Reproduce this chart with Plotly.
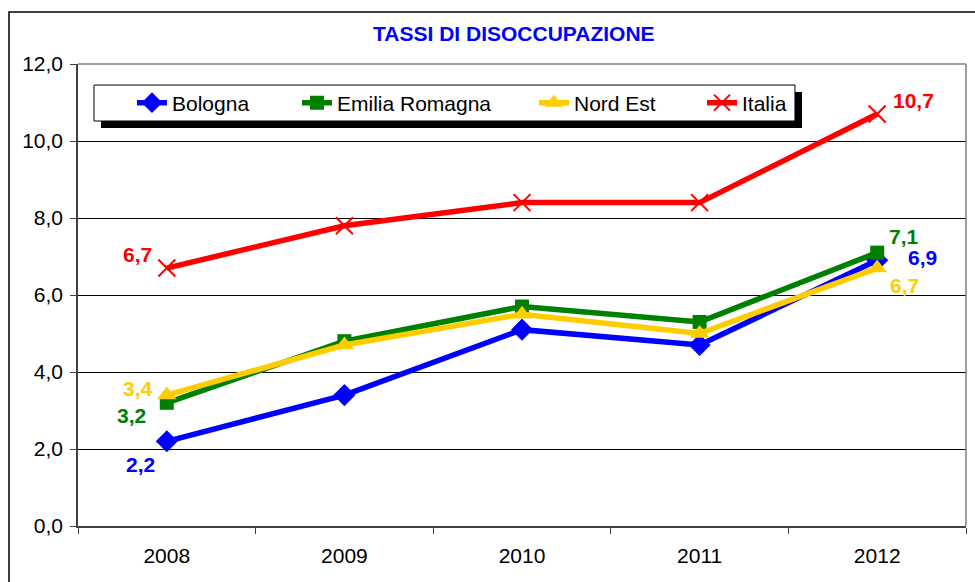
import plotly.graph_objects as go

years = ["2008", "2009", "2010", "2011", "2012"]
bologna = [2.2, 3.4, 5.1, 4.7, 6.9]
emilia = [3.2, 4.8, 5.7, 5.3, 7.1]
nord_est = [3.4, 4.7, 5.5, 5.0, 6.7]
italia = [6.7, 7.8, 8.4, 8.4, 10.7]
series_names = ["Bologna", "Emilia Romagna", "Nord Est", "Italia"]
y_ticks = [0, 2, 4, 6, 8, 10, 12]
title_text = "TASSI DI DISOCCUPAZIONE"

colors = ["#0000FF", "#008000", "#FFCC00", "#FF0000"]
symbols = ["diamond", "square", "triangle-up", "x-thin"]
msizes = [17, 14, 17, 17]
FONT = "Liberation Sans, Arial, sans-serif"

series = [bologna, emilia, nord_est, italia]
legend_ids = ["legend", "legend2", "legend3", "legend4"]
legend_x = [0.0608, 0.2466, 0.5135, 0.7027]

fig = go.Figure()
for i, (name, vals) in enumerate(zip(series_names, series)):
    marker = dict(symbol=symbols[i], size=msizes[i], color=colors[i])
    if symbols[i] == "x-thin":
        marker["line"] = dict(color=colors[i], width=2)
    fig.add_trace(go.Scatter(
        x=years, y=vals, name=name, mode="lines+markers",
        line=dict(color=colors[i], width=5.5),
        marker=marker, legend=legend_ids[i], showlegend=True,
    ))

# data labels for first and last year (offsets in px)
label_offsets = {
    0: [(-26, -23), (45, 3)],
    1: [(-35, -13), (27, 16)],
    2: [(-29, 7), (27, -17)],
    3: [(-29, 14), (36, 14)],
}
annotations = []
for i, vals in enumerate(series):
    for j, idx in enumerate([0, len(years) - 1]):
        dx, dy = label_offsets[i][j]
        annotations.append(dict(
            x=idx, y=vals[idx], xref="x", yref="y",
            text=f"{vals[idx]:.1f}".replace(".", ","),
            showarrow=False, xshift=dx, yshift=dy,
            font=dict(family=FONT, size=21, color=colors[i], weight="bold"),
        ))

shapes = [
    # outer chart border
    dict(type="rect", xref="paper", yref="paper", x0=-0.0777, x1=1.05, y0=-0.2, y1=1.1126,
         line=dict(color="black", width=1.5), fillcolor="rgba(0,0,0,0)", layer="above"),
    # plot area top/right border (gray)
    dict(type="line", xref="paper", yref="paper", x0=0, x1=1, y0=1, y1=1,
         line=dict(color="#808080", width=1.5), layer="above"),
    dict(type="line", xref="paper", yref="paper", x0=1, x1=1, y0=0, y1=1,
         line=dict(color="#808080", width=1.5), layer="above"),
    # legend shadow
    dict(type="rect", xref="paper", yref="paper", x0=0.0259, x1=0.8153, y0=0.8615, y1=0.9394,
         line=dict(width=0), fillcolor="black", layer="above"),
    # legend box
    dict(type="rect", xref="paper", yref="paper", x0=0.018, x1=0.8074, y0=0.8766, y1=0.9545,
         line=dict(color="black", width=1), fillcolor="white", layer="above"),
]

layout_legends = {}
for lid, lx in zip(legend_ids, legend_x):
    layout_legends[lid] = dict(
        x=lx, xanchor="left", y=0.9156, yanchor="middle",
        orientation="h", bgcolor="rgba(0,0,0,0)", borderwidth=0,
        font=dict(family=FONT, size=21, color="black"),
    )

fig.update_layout(
    width=975, height=582,
    margin=dict(l=78, r=9, t=64, b=56),
    paper_bgcolor="white", plot_bgcolor="white",
    separators=",.",
    title=dict(text=title_text, x=0.527, xref="container", xanchor="center",
               y=1 - 34 / 582, yref="container", yanchor="middle",
               font=dict(family=FONT, size=21, color="#0000FF", weight="bold")),
    font=dict(family=FONT, size=21, color="black"),
    showlegend=True,
    annotations=annotations,
    shapes=shapes,
    **layout_legends,
)
fig.update_xaxes(
    type="category", range=[-0.5, 4.5], tickson="boundaries",
    ticks="outside", ticklen=6, tickcolor="#404040",
    showline=True, linecolor="#404040", linewidth=1.5,
    showgrid=False, ticklabelstandoff=10,
    tickfont=dict(family=FONT, size=21, color="black"),
)
fig.update_yaxes(
    range=[0, 12], tickvals=y_ticks, tickformat=".1f",
    ticks="outside", ticklen=6, tickcolor="#404040",
    showline=True, linecolor="#404040", linewidth=1.5,
    showgrid=True, gridcolor="black", gridwidth=1, zeroline=False,
    ticklabelstandoff=3,
    tickfont=dict(family=FONT, size=21, color="black"),
)

fig.write_html(
    "out.html",
    config={"displayModeBar": False},
    post_script="document.body.style.margin='0';document.body.style.overflow='hidden';",
)
